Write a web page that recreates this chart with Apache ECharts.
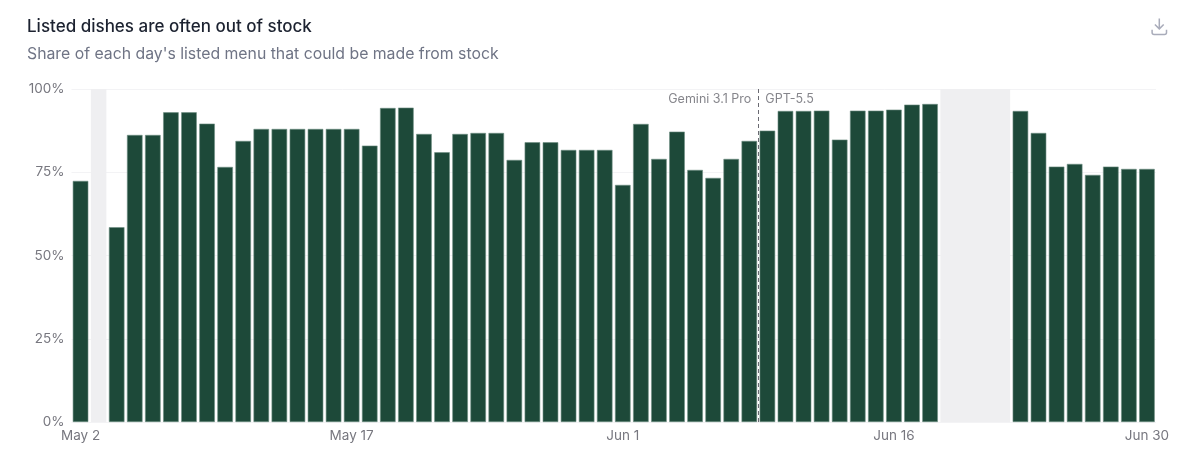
<!DOCTYPE html>
<html>
<head>
<meta charset="utf-8">
<style>html,body{margin:0;padding:0;background:#fff}#chart{width:1200px;height:471px}</style>
<script src="https://cdn.jsdelivr.net/npm/echarts@6/dist/echarts.min.js"></script>
</head>
<body>
<div id="chart"></div>
<script>
const days = [
  'May 2','May 3','May 4','May 5','May 6','May 7','May 8','May 9','May 10','May 11',
  'May 12','May 13','May 14','May 15','May 16','May 17','May 18','May 19','May 20','May 21',
  'May 22','May 23','May 24','May 25','May 26','May 27','May 28','May 29','May 30','May 31',
  'Jun 1','Jun 2','Jun 3','Jun 4','Jun 5','Jun 6','Jun 7','Jun 8','Jun 9','Jun 10',
  'Jun 11','Jun 12','Jun 13','Jun 14','Jun 15','Jun 16','Jun 17','Jun 18','Jun 19','Jun 20',
  'Jun 21','Jun 22','Jun 23','Jun 24','Jun 25','Jun 26','Jun 27','Jun 28','Jun 29','Jun 30'
];
// Percent of the listed menu in stock; null marks days without data.
const inStock = [
  72.4,null,58.5,86.2,86.2,93,93,89.6,76.6,84.4,
  88,88,88,88,88,88,83,94.3,94.4,86.5,
  81,86.5,86.8,86.8,78.7,84,84,81.7,81.7,81.7,
  71.2,89.5,79,87.2,75.7,73.3,79,84.4,87.5,93.4,
  93.4,93.5,84.8,93.5,93.5,93.8,95.3,95.5,null,null,
  null,null,93.4,86.8,76.7,77.5,74.2,76.7,76,76
];
const tickLabels = ['May 2','May 17','Jun 1','Jun 16','Jun 30'];
const yTicks = [0,25,50,75,100];
// First and last day of each stretch with no data.
const gaps = [['May 3','May 3'],['Jun 19','Jun 22']];
// The model changeover falls between these two days.
const changeoverAfter = 'Jun 8';
const modelBefore = 'Gemini 3.1 Pro';
const modelAfter = 'GPT-5.5';

const barShare = 0.86;
const inset = (1 - barShare) / 2;
const changeover = days.indexOf(changeoverAfter) + 1;

const chart = echarts.init(document.getElementById('chart'), null, {renderer: 'canvas'});
chart.setOption({
  animation: false,
  textStyle: {fontFamily: 'Inter, sans-serif'},
  title: {
    text: 'Listed dishes are often out of stock',
    subtext: "Share of each day's listed menu that could be made from stock",
    left: 27, top: 18, padding: 0, itemGap: 11,
    textStyle: {fontSize: 17, fontWeight: 500, color: '#1c2230', fontFamily: 'Inter, sans-serif'},
    subtextStyle: {fontSize: 15.8, color: '#6f7485', fontFamily: 'Inter, sans-serif'}
  },
  toolbox: {
    right: 16, top: 1, itemSize: 16,
    feature: {saveAsImage: {
      title: '',
      icon: 'path://M12 2V15M6.5 9.5L12 15L17.5 9.5M3 16V19.5Q3 22 5.5 22H18.5Q21 22 21 19.5V16',
      iconStyle: {color: 'none', borderColor: '#a9acba', borderWidth: 1.5}
    }}
  },
  grid: {left: 71.5, right: 44, top: 89, bottom: 49},
  xAxis: [
    {
      type: 'category', data: days,
      axisLine: {show: false}, axisTick: {show: false},
      axisLabel: {
        fontSize: 13.5, color: '#77777f', margin: 7,
        interval: (i, name) => tickLabels.includes(name)
      }
    },
    // Fractional day axis used for annotations that sit between bars.
    {type: 'value', min: 0, max: days.length, show: false}
  ],
  yAxis: {
    type: 'value', min: 0, max: 100, interval: 25,
    axisLabel: {
      fontSize: 13.5, color: '#77777f', margin: 7,
      formatter: v => yTicks.includes(v) ? v + '%' : ''
    },
    axisLine: {show: false}, axisTick: {show: false},
    splitLine: {lineStyle: {color: '#f3f3f5', width: 1}}
  },
  series: [
    {
      type: 'bar', data: inStock, barWidth: '86%', z: 3,
      itemStyle: {color: '#1d4939', borderColor: '#6f8f83', borderWidth: 0.6}
    },
    {
      type: 'scatter', xAxisIndex: 1, yAxisIndex: 0, symbolSize: 0, z: 1,
      data: [],
      silent: true,
      markArea: {
        silent: true,
        itemStyle: {color: '#efeff1'},
        data: gaps.map(([a, b]) => [
          {xAxis: days.indexOf(a) + inset},
          {xAxis: days.indexOf(b) + 1 - inset}
        ])
      }
    },
    {
      type: 'scatter', xAxisIndex: 1, yAxisIndex: 0, symbolSize: 0, z: 5,
      silent: true,
      data: [
        {value: [changeover, 96.8], label: {show: true, position: 'left', distance: 7, formatter: modelBefore}},
        {value: [changeover, 96.8], label: {show: true, position: 'right', distance: 7, formatter: modelAfter}}
      ],
      label: {fontSize: 12.5, color: '#66666e'},
      markLine: {
        silent: true, symbol: 'none',
        label: {show: false},
        lineStyle: {color: '#6a6a72', type: [4, 3], width: 1},
        data: [{xAxis: changeover}]
      }
    }
  ]
});
</script>
</body>
</html>
